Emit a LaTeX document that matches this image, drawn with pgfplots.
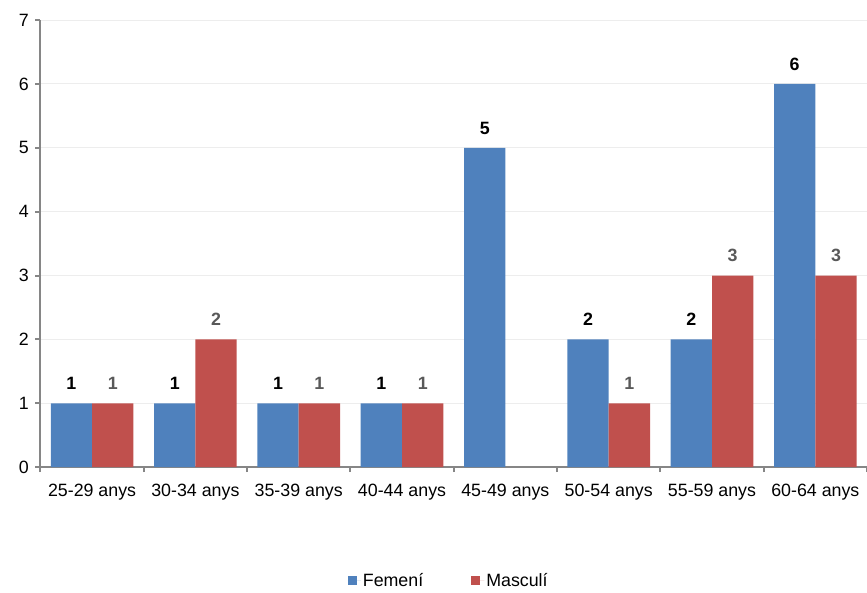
\documentclass[border=0pt]{standalone}
\usepackage{pgfplots}
\pgfplotsset{compat=1.18}
\usepackage{fontspec}
\setmainfont{Liberation Sans}
\definecolor{fem}{HTML}{4F81BD}
\definecolor{mas}{HTML}{C0504D}
\definecolor{axgray}{HTML}{868686}
\definecolor{gridc}{HTML}{EDEDED}
\definecolor{lblgray}{HTML}{595959}
\newcommand\lbl{\fontsize{17.8}{21}\selectfont}
\begin{document}
\begin{tikzpicture}[x=1pt,y=1pt]
\useasboundingbox (-40.4,-125) rectangle (826.2,467);
\begin{axis}[
  at={(0,0)}, anchor=south west,
  scale only axis, width=826.2pt, height=447pt,
  xmin=-0.5, xmax=7.5, ymin=0, ymax=7,
  axis x line*=bottom, axis y line*=left,
  axis line style={axgray, line width=2pt},
  ytick={0,1,...,7},
  ymajorgrids, major grid style={gridc, line width=1pt},
  xtick={0,1,...,7},
  xticklabels={25-29 anys,30-34 anys,35-39 anys,40-44 anys,45-49 anys,50-54 anys,55-59 anys,60-64 anys},
  minor xtick={-0.5,0.5,...,7.5},
  major x tick style={draw=none},
  minor x tick style={axgray, line width=2pt},
  ytick style={axgray, line width=2pt},
  tick align=outside,
  major tick length=5pt, minor tick length=5pt,
  /pgf/number format/assume math mode=true,
  tick label style={font=\lbl, text=black},
  x tick label style={yshift=-8pt},
  y tick label style={xshift=-3pt},
  ybar=0pt, bar width=0.4,
  nodes near coords,
  every node near coord/.append style={font=\lbl\bfseries, anchor=south, yshift=10pt},
  legend style={at={(0.494,-0.253)}, anchor=center, draw=none, font=\lbl,
    legend columns=2,
    /tikz/every even column/.append style={column sep=46pt}},
  legend image code/.code={\fill[#1] (0pt,-4.5pt) rectangle (9pt,4.5pt); \path (0pt,0pt) -- (13pt,0pt);},
]
\addplot[fill=fem, draw=none, every node near coord/.append style={text=black}]
  coordinates {(0,1) (1,1) (2,1) (3,1) (4,5) (5,2) (6,2) (7,6)};
\addplot[fill=mas, draw=none, every node near coord/.append style={text=lblgray}]
  coordinates {(0,1) (1,2) (2,1) (3,1) (5,1) (6,3) (7,3)};
\legend{Femení, Masculí}
\end{axis}
\end{tikzpicture}
\end{document}
